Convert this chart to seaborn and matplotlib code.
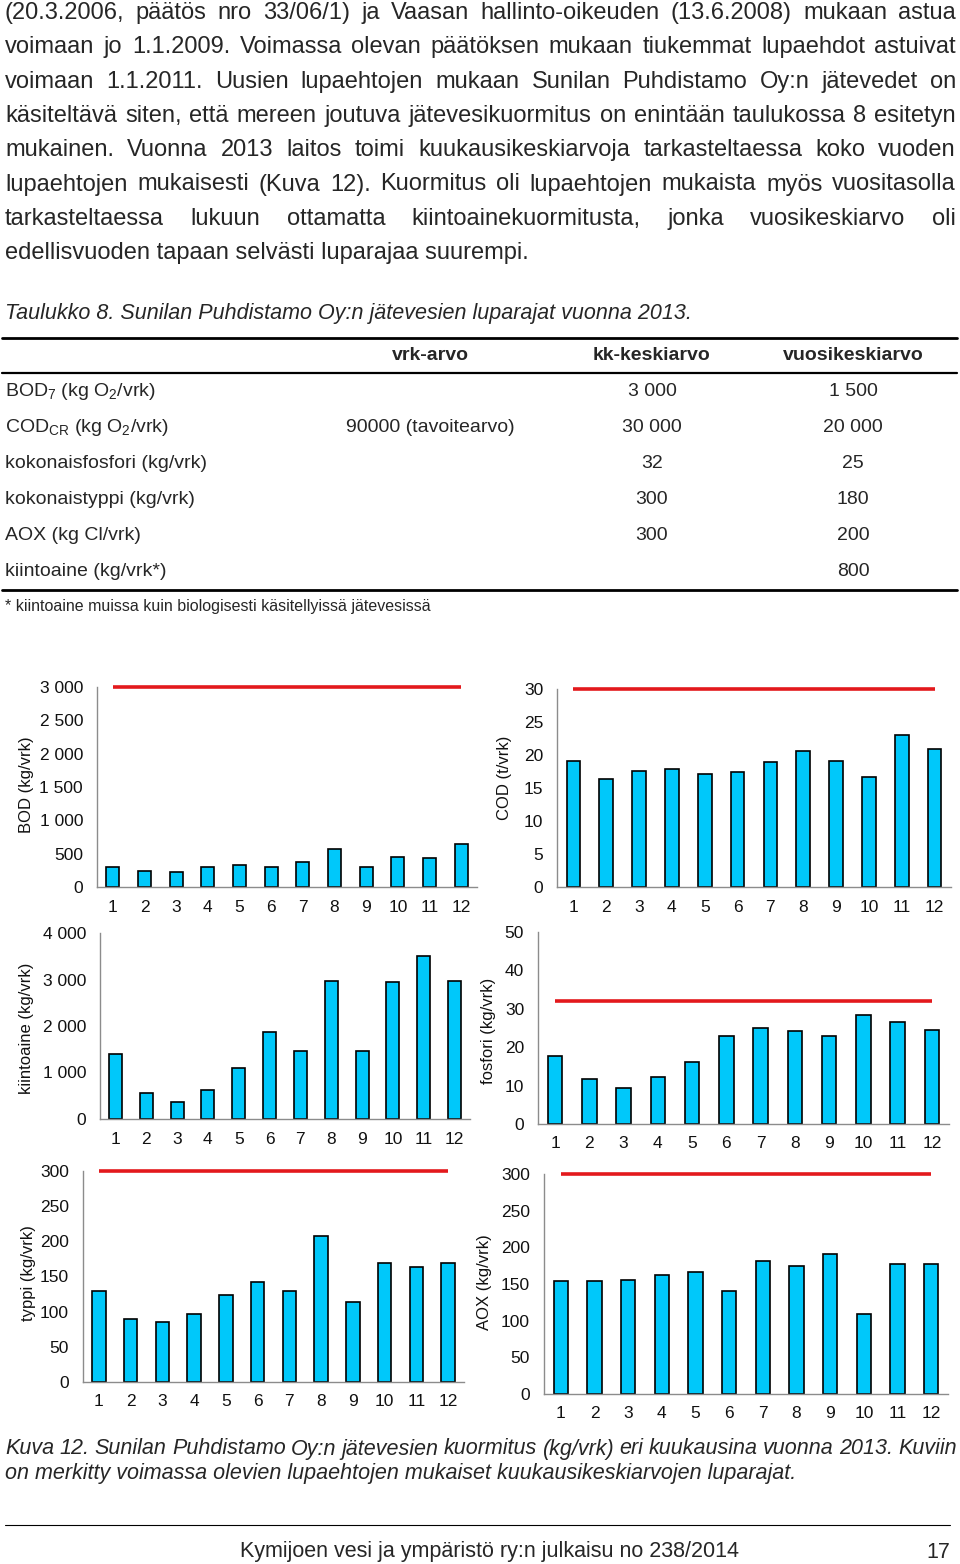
import matplotlib
matplotlib.use("Agg")
import matplotlib.pyplot as plt
from matplotlib.ticker import FuncFormatter, FixedLocator
import seaborn as sns


# ==============================
# DATA
# ==============================

months = [str(m) for m in range(1, 13)]

bod = [305, 240, 225, 295, 335, 305, 375, 565, 305, 455, 440, 640]
cod = [19.1, 16.4, 17.6, 17.9, 17.1, 17.5, 18.9, 20.6, 19.1, 16.6, 23.1, 20.9]
kiintoaine = [1390, 550, 365, 620, 1090, 1865, 1455, 2970, 1455, 2950, 3500, 2970]
fosfori = [17.8, 11.7, 9.4, 12.3, 16.1, 22.8, 25.0, 24.2, 22.8, 28.5, 26.6, 24.4]
typpi = [130, 89, 86, 96, 124, 142, 130, 207, 114, 169, 164, 169]
aox = [154, 154, 155, 162, 167, 140, 181, 175, 191, 109, 177, 177]

# kuukausikeskiarvojen luparajat
limit_bod = 3000
limit_cod = 30
limit_fosfori = 32
limit_typpi = 300
limit_aox = 300

body_lines = [
    "(20.3.2006, päätös nro 33/06/1) ja Vaasan hallinto-oikeuden (13.6.2008) mukaan astua",
    "voimaan jo 1.1.2009. Voimassa olevan päätöksen mukaan tiukemmat lupaehdot astuivat",
    "voimaan 1.1.2011. Uusien lupaehtojen mukaan Sunilan Puhdistamo Oy:n jätevedet on",
    "käsiteltävä siten, että mereen joutuva jätevesikuormitus on enintään taulukossa 8 esitetyn",
    "mukainen. Vuonna 2013 laitos toimi kuukausikeskiarvoja tarkasteltaessa koko vuoden",
    "lupaehtojen mukaisesti (Kuva 12). Kuormitus oli lupaehtojen mukaista myös vuositasolla",
    "tarkasteltaessa lukuun ottamatta kiintoainekuormitusta, jonka vuosikeskiarvo oli",
    "edellisvuoden tapaan selvästi luparajaa suurempi.",
]

table_caption = "Taulukko 8. Sunilan Puhdistamo Oy:n jätevesien luparajat vuonna 2013."
table_headers = ["vrk-arvo", "kk-keskiarvo", "vuosikeskiarvo"]
table_rows = [
    r"BOD$_7$ (kg O$_2$/vrk)",
    r"COD$_{\mathrm{CR}}$ (kg O$_2$/vrk)",
    "kokonaisfosfori (kg/vrk)",
    "kokonaistyppi (kg/vrk)",
    "AOX (kg Cl/vrk)",
    "kiintoaine (kg/vrk*)",
]
table_vrk = ["", "90000 (tavoitearvo)", "", "", "", ""]
table_kk = ["3 000", "30 000", "32", "300", "300", ""]
table_vuosi = ["1 500", "20 000", "25", "180", "200", "800"]
table_note = "* kiintoaine muissa kuin biologisesti käsitellyissä jätevesissä"

figure_caption = [
    "Kuva 12. Sunilan Puhdistamo Oy:n jätevesien kuormitus (kg/vrk) eri kuukausina vuonna 2013. Kuviin",
    "on merkitty voimassa olevien lupaehtojen mukaiset kuukausikeskiarvojen luparajat.",
]
footer_text = "Kymijoen vesi ja ympäristö ry:n julkaisu no 238/2014"
page_number = "17"


# ==============================
# STYLE
# ==============================

sns.set_style("white")
plt.rcParams["font.family"] = ["Liberation Sans", "DejaVu Sans"]
plt.rcParams["mathtext.fontset"] = "custom"
plt.rcParams["mathtext.rm"] = "Liberation Sans"
plt.rcParams["mathtext.it"] = "Liberation Sans:italic"

W, H = 960, 1564
BAR_COLOR = "#00C8FA"
RED = "#E3191C"
AXIS_GRAY = "#8C8C8C"

fig = plt.figure(figsize=(W / 100, H / 100), dpi=100)
renderer = fig.canvas.get_renderer()


def px(x, y):
    return x / W, 1 - y / H


def put(x, y, s, **kw):
    fx, fy = px(x, y)
    return fig.text(fx, fy, s, **kw)


def justified(text, x0, x1, y, size, style="normal"):
    words = text.split()
    objs = [put(0, y, w, fontsize=size, style=style, va="center", ha="left")
            for w in words]
    widths = [o.get_window_extent(renderer).width for o in objs]
    gap = max((x1 - x0 - sum(widths)) / (len(words) - 1), 2)
    x = x0
    for o, w in zip(objs, widths):
        o.set_x(x / W)
        x += w + gap


def hrule(y, x0, x1, lw):
    fig.add_artist(plt.Line2D([x0 / W, x1 / W], [1 - y / H, 1 - y / H],
                              color="black", lw=lw, transform=fig.transFigure))


# ==============================
# BODY TEXT
# ==============================

for i, line in enumerate(body_lines):
    y = 13 + i * 34.3
    if i < len(body_lines) - 1:
        justified(line, 5, 956, y, 17)
    else:
        put(5, y, line, fontsize=17, va="center")

put(5, 314, table_caption, fontsize=15.5, style="italic", va="center")


# ==============================
# TABLE 8
# ==============================

col_x = [430, 652, 853]

hrule(338, 2, 957, 2.0)
for cx, head in zip(col_x, table_headers):
    put(cx, 355, head, fontsize=14, weight="bold", ha="center", va="center")
hrule(373, 2, 957, 1.6)

for i, label in enumerate(table_rows):
    y = 391 + i * 36
    put(5, y, label, fontsize=14, va="center")
    for cx, col in zip(col_x, [table_vrk, table_kk, table_vuosi]):
        put(cx, y, col[i], fontsize=14, ha="center", va="center")

hrule(590, 2, 957, 2.0)
put(5, 606, table_note, fontsize=11.5, va="center")


# ==============================
# MONTHLY LOAD CHARTS
# ==============================

# (values, limit, ylabel, ymax, step, axes px box, ylabel px position)
charts = [
    (bod, limit_bod, "BOD (kg/vrk)", 3000, 500, (97, 477, 687, 887), (27, 785)),
    (cod, limit_cod, "COD (t/vrk)", 30, 5, (557, 951, 689, 887), (505, 778)),
    (kiintoaine, None, "kiintoaine (kg/vrk)", 4000, 1000, (100, 470, 933, 1119), (26, 1028)),
    (fosfori, limit_fosfori, "fosfori (kg/vrk)", 50, 10, (538, 949, 932, 1124), (488, 1031)),
    (typpi, limit_typpi, "typpi (kg/vrk)", 300, 50, (83, 464, 1171, 1382), (28, 1273)),
    (aox, limit_aox, "AOX (kg/vrk)", 300, 50, (544, 948, 1174, 1394), (484, 1282)),
]

space_thousands = FuncFormatter(lambda v, p: f"{int(round(v)):,}".replace(",", " "))

for values, limit, ylabel, ymax, step, box, lab in charts:
    left, right, top, bottom = box
    ax = fig.add_axes([left / W, 1 - bottom / H, (right - left) / W, (bottom - top) / H])

    sns.barplot(
        x=months,
        y=values,
        color=BAR_COLOR,
        saturation=1,
        edgecolor="black",
        linewidth=1.2,
        width=0.42,
        ax=ax
    )

    if limit is not None:
        ax.hlines(limit, 0, len(months) - 1, color=RED, lw=2.6,
                  clip_on=False, zorder=5)

    ax.set_xlim(-0.5, len(months) - 0.5)
    ax.set_ylim(0, ymax)
    ax.set_yticks(range(0, ymax + 1, step))
    ax.yaxis.set_major_formatter(space_thousands)
    ax.xaxis.set_minor_locator(FixedLocator([k - 0.5 for k in range(len(months) + 1)]))

    sns.despine(ax=ax)
    for side in ["left", "bottom"]:
        ax.spines[side].set_color(AXIS_GRAY)
        ax.spines[side].set_linewidth(1.0)

    ax.tick_params(axis="y", length=3, width=1, color=AXIS_GRAY,
                   labelsize=12.5, pad=7, labelcolor="#111111")
    ax.tick_params(axis="x", which="major", length=0, labelsize=12.5,
                   pad=9, labelcolor="#111111")
    ax.tick_params(axis="x", which="minor", length=3, width=1, color=AXIS_GRAY)
    ax.set_xlabel("")
    ax.set_ylabel("")

    put(lab[0], lab[1], ylabel, fontsize=12, rotation=90,
        ha="center", va="center", color="#111111")


# ==============================
# CAPTION & FOOTER
# ==============================

justified(figure_caption[0], 5, 957, 1449, 15.5, style="italic")
put(5, 1473, figure_caption[1], fontsize=15.5, style="italic", va="center")

hrule(1525, 5, 950, 0.8)
put(489, 1552, footer_text, fontsize=15.5, ha="center", va="center")
put(950, 1552, page_number, fontsize=15.5, ha="right", va="center")

plt.savefig("out.png", dpi=100)
